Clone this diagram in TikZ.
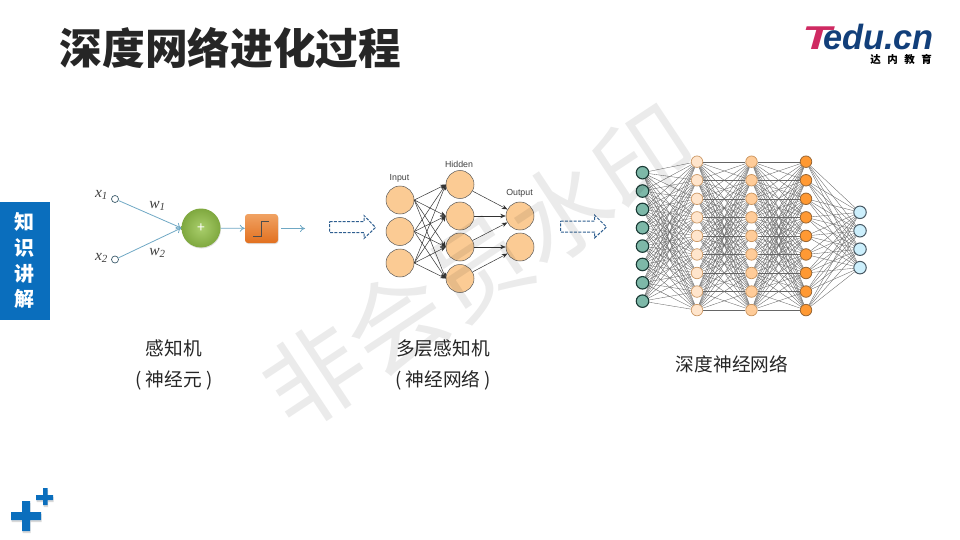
\documentclass[tikz,border=0pt]{standalone}
\usepackage{fontspec}
\setmainfont{Noto Sans CJK SC}
\newfontfamily\labelfont{Liberation Sans}
\newfontfamily\logofont[BoldFeatures={FakeBold=1.5}]{Liberation Sans}
\newfontfamily\varfont{Liberation Serif}
\usetikzlibrary{arrows.meta,backgrounds,shadows}
\definecolor{tedublue}{HTML}{0A6EBD}
\definecolor{logonavy}{HTML}{123F7A}
\definecolor{logopink}{HTML}{CF2A62}
\definecolor{signalblue}{HTML}{6FA8C4}
\definecolor{mlpfill}{HTML}{FBCB94}
\definecolor{dasharrow}{HTML}{2F5F90}
\definecolor{sumlight}{HTML}{A9CE6B}
\definecolor{sumdark}{HTML}{7FA83F}
\definecolor{boxlight}{HTML}{F0A263}
\definecolor{boxdark}{HTML}{E2701F}
\definecolor{deepgreen}{HTML}{7DB8A8}
\definecolor{deepline}{HTML}{1A3A35}
\tikzset{
  caption/.style={font=\fontsize{18.7}{22}\selectfont,text=black!85,inner sep=0pt},
  sidetext/.style={font=\fontsize{20}{20}\selectfont\bfseries,text=white,inner sep=0pt},
  signal/.style={signalblue,line width=0.8pt,-{To[length=5pt,width=7pt]}},
  inputdot/.style={circle,draw=black!45!signalblue,line width=0.7pt,fill=white,minimum size=7pt,inner sep=0pt},
  weight/.style={font=\varfont\itshape\fontsize{15.5}{15}\selectfont,text=black!75,inner sep=0pt},
  mlpnode/.style={circle,draw=black!65,line width=0.5pt,fill=mlpfill,minimum size=28pt,inner sep=0pt},
  mlpedge/.style={black!80,line width=0.5pt,-{Stealth[length=5.5pt,width=4.4pt]}},
  mlplabel/.style={font=\labelfont\fontsize{8.8}{9}\selectfont,text=black!75,inner sep=0pt},
  dashedarrow/.style={dasharrow,line width=1pt,dash pattern=on 3pt off 1.4pt},
  deepedge/.style={black!60,line width=0.35pt},
  deepnode/.style={circle,minimum size=#1,inner sep=0pt},
  plusmark/.style={fill=tedublue,drop shadow={shadow xshift=0.5pt,shadow yshift=-2pt,opacity=0.3}}
}
\begin{document}
\begin{tikzpicture}[x=1pt,y=-1pt]
\useasboundingbox (0,0) rectangle (960,540);
\node[font=\fontsize{42.7}{46}\selectfont\bfseries,text=black!85,inner sep=0pt] (title) at (230.5,48) {深度网络进化过程};
\node[font=\logofont\bfseries\itshape\fontsize{35}{35}\selectfont,text=logonavy,inner sep=0pt,anchor=base west,xscale=0.98,transform shape] (logoedu) at (823,49.5) {edu.cn};
\node[font=\logofont\bfseries\itshape\fontsize{33}{33}\selectfont,text=logopink,inner sep=0pt,anchor=base west,xscale=1.45,transform shape] (logot) at (802,49.5) {T};
\node[font=\fontsize{10.5}{11}\selectfont\bfseries,text=black,inner sep=0pt] (logocn) at (901,59) {达\hspace{6.5pt}内\hspace{6.5pt}教\hspace{6.5pt}育};
\fill[tedublue] (0,202) rectangle (50,320);
\node[sidetext] (side1) at (24.5,222) {知};
\node[sidetext] (side2) at (24.5,248) {识};
\node[sidetext] (side3) at (24.5,273.5) {讲};
\node[sidetext] (side4) at (24.5,299) {解};
\path[plusmark] (11,512) -- (22,512) -- (22,501) -- (30,501) -- (30,512) -- (41,512) -- (41,520) -- (30,520) -- (30,531) -- (22,531) -- (22,520) -- (11,520) -- cycle;
\path[plusmark] (36,495) -- (43,495) -- (43,488) -- (47.5,488) -- (47.5,495) -- (53,495) -- (53,500) -- (47.5,500) -- (47.5,505) -- (43,505) -- (43,500) -- (36,500) -- cycle;

\node[inputdot] (xone) at (115,199) {};
\node[inputdot] (xtwo) at (115,259.5) {};
\node[weight] (xonelabel) at (101.5,195) {x\textsubscript{1}};
\node[weight] (xtwolabel) at (101.5,258) {x\textsubscript{2}};
\node[weight] (wone) at (157.5,206) {w\textsubscript{1}};
\node[weight] (wtwo) at (157.5,253) {w\textsubscript{2}};
\node[circle,minimum size=39pt,inner sep=0pt,inner color=sumlight,outer color=sumdark,drop shadow={shadow xshift=0.5pt,shadow yshift=-1pt,opacity=0.25},text=white,font=\fontsize{14}{14}\selectfont] (sum) at (201,228) {+};
\node[rounded corners=3pt,minimum width=33pt,minimum height=29pt,inner sep=0pt,top color=boxlight,bottom color=boxdark,drop shadow={shadow xshift=0.5pt,shadow yshift=-1pt,opacity=0.25}] (stepfn) at (261.5,228.5) {};
\draw[black!70,line width=0.7pt] (253,236) -- (261.5,236) -- (261.5,221) -- (269,221);
\coordinate (stepout) at (305,228.5);
\draw[signal] (xone) -- (sum.west);
\draw[signal] (xtwo) -- (sum.west);
\draw[signal] (sum) -- (stepfn);
\draw[signal] (stepfn.east)++(3,0) -- (stepout);

\node[caption] (capa) at (174,348) {感知机};
\node[caption] (capb) at (174,380) {( 神经元 )};

\draw[dashedarrow] (329.5,221.5) -- (364,221.5) -- (364,215.5) -- (375.5,227.5) -- (364,238.5) -- (364,232.5) -- (329.5,232.5) -- cycle;
\draw[dashedarrow] (560.5,221) -- (594.5,221) -- (594.5,215) -- (606.5,227) -- (594.5,238) -- (594.5,232) -- (560.5,232) -- cycle;

\node[mlpnode] (ina) at (400,200) {};
\node[mlpnode] (inb) at (400,231.5) {};
\node[mlpnode] (inc) at (400,263) {};
\node[mlpnode] (hida) at (460,184.5) {};
\node[mlpnode] (hidb) at (460,216) {};
\node[mlpnode] (hidc) at (460,247) {};
\node[mlpnode] (hidd) at (460,278.5) {};
\node[mlpnode] (outa) at (520,216) {};
\node[mlpnode] (outb) at (520,247) {};
\node[mlplabel] (inlabel) at (399.5,178) {Input};
\node[mlplabel] (hidlabel) at (459,164) {Hidden};
\node[mlplabel] (outlabel) at (519.5,193.5) {Output};
\foreach \i in {ina,inb,inc}
  \foreach \j in {hida,hidb,hidc,hidd}
    \draw[mlpedge] (\i.east) -- (\j.west);
\draw[mlpedge] (hida) -- (outa);
\draw[mlpedge] (hidb) -- (outa);
\draw[mlpedge] (hidc) -- (outa);
\draw[mlpedge] (hidc) -- (outb);
\draw[mlpedge] (hidd) -- (outb);

\node[caption] (capc) at (443,348) {多层感知机};
\node[caption] (capd) at (443,380) {( 神经网络 )};

\foreach \i in {1,...,8}
  \node[deepnode=12.5pt,draw=deepline,line width=1.1pt,fill=deepgreen] (da\i) at (642.5,{172.7+18.35*(\i-1)}) {};
\foreach \i in {1,...,9} {
  \node[deepnode=11.5pt,draw=brown!80,line width=0.7pt,fill=orange!20!white] (db\i) at (697,{161.7+18.55*(\i-1)}) {};
  \node[deepnode=11.5pt,draw=brown!85,line width=0.7pt,fill=orange!40!white] (dc\i) at (751.5,{161.7+18.55*(\i-1)}) {};
  \node[deepnode=11.5pt,draw=brown!80!black,line width=0.8pt,fill=orange!80!white] (dd\i) at (806,{161.7+18.55*(\i-1)}) {};
}
\foreach \i in {1,...,4}
  \node[deepnode=12.5pt,draw=black!70!cyan,line width=1pt,fill=cyan!20!white] (de\i) at (860,{212.3+18.45*(\i-1)}) {};
\begin{scope}[on background layer]
\foreach \i in {1,...,8}
  \foreach \j in {1,...,9}
    \draw[deepedge] (da\i) -- (db\j);
\foreach \i in {1,...,9}
  \foreach \j in {1,...,9} {
    \draw[deepedge] (db\i) -- (dc\j);
    \draw[deepedge] (dc\i) -- (dd\j);
  }
\foreach \i in {1,...,9}
  \foreach \j in {1,...,4}
    \draw[deepedge] (dd\i) -- (de\j);
\end{scope}

\node[caption] (cape) at (732,364) {深度神经网络};

\node[font=\fontsize{99}{104}\selectfont,text=black,opacity=0.08,rotate=33.5,inner sep=0pt] (stamp) at (479,267) {非会员水印};
\end{tikzpicture}
\end{document}
